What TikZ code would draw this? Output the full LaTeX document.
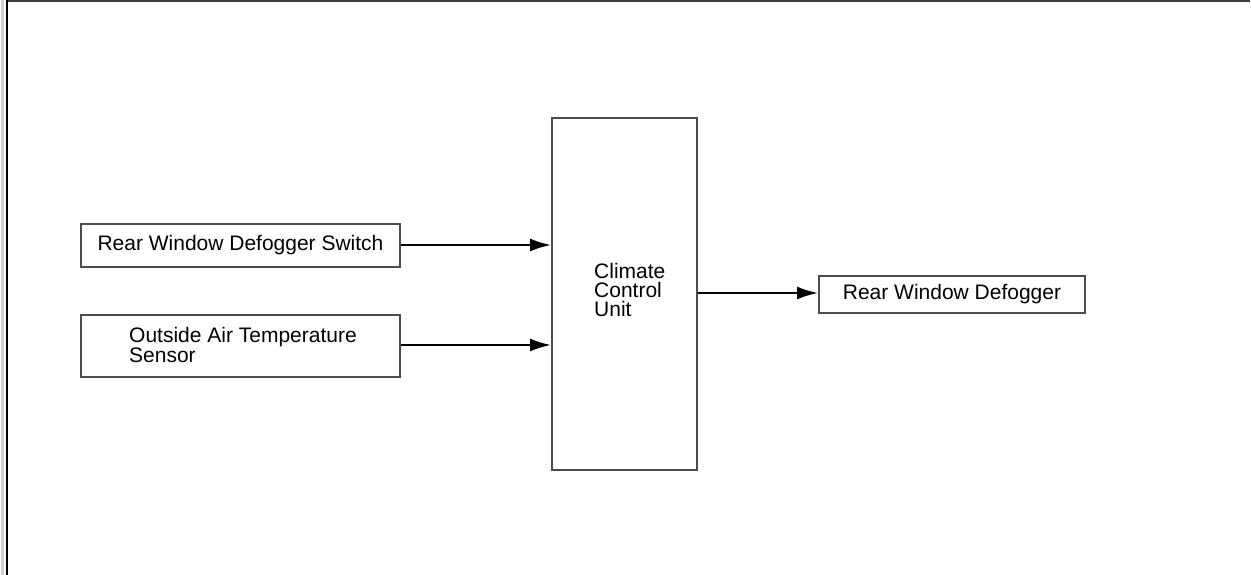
\documentclass[tikz,border=0pt]{standalone}
\usepackage{fontspec}
\setmainfont{Liberation Sans}
\usetikzlibrary{arrows.meta}
\begin{document}
\begin{tikzpicture}[x=1pt,y=-1pt,
  blk/.style={draw=black!70,line width=2pt,inner sep=0pt,font=\fontsize{21}{19}\selectfont},
  conn/.style={line width=2.2pt,-{Latex[length=21pt,width=13pt]}}]
\useasboundingbox (0,0) rectangle (1251,575);
\fill[black!18] (1,0) rectangle (3.5,575);
\draw[black!75,line width=2pt] (7,1) -- (1250,1);
\draw[black,line width=2pt] (7,0) -- (7,575);
\node[blk,minimum width=319pt,minimum height=43pt] (sw) at (240.5,245.5) {Rear Window Defogger Switch};
\node[blk,minimum width=319pt,minimum height=62pt] (oat) at (240.5,346) {};
\node[anchor=north west,inner sep=0pt,align=left,font=\fontsize{21}{18}\selectfont] (oatt) at (129,327) {Outside Air Temperature\\Sensor};
\node[blk,minimum width=145pt,minimum height=352pt] (ccu) at (624.5,294) {};
\node[anchor=north west,inner sep=0pt,align=left,font=\fontsize{21}{19}\selectfont] (ccut) at (594,263) {Climate\\Control\\Unit};
\node[blk,minimum width=266pt,minimum height=37pt] (rwd) at (952,294.5) {Rear Window Defogger};
\coordinate (a1) at (ccu.west |- 0,245);
\coordinate (a2) at (ccu.west |- 0,345);
\draw[conn] (sw.east |- a1) -- (a1);
\draw[conn] (oat.east |- a2) -- (a2);
\draw[conn] (ccu.east |- 0,293) -- (rwd.west |- 0,293);
\end{tikzpicture}
\end{document}
